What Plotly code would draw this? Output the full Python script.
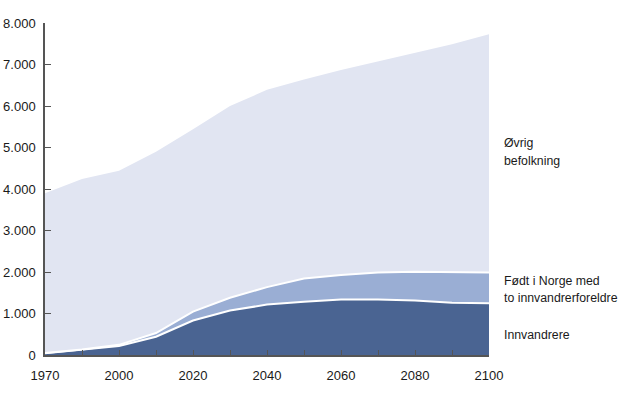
import plotly.graph_objects as go

years = [1970, 1990, 2000, 2010, 2020, 2030, 2040, 2050, 2060, 2070, 2080, 2090, 2100]
tick_labels = ["1970", "", "2000", "", "2020", "", "2040", "", "2060", "", "2080", "", "2100"]
innvandrere = [40, 120, 215, 440, 830, 1070, 1215, 1285, 1340, 1340, 1315, 1260, 1245]
norskfodte = [5, 15, 30, 90, 215, 310, 420, 560, 590, 650, 690, 740, 740]
ovrig = [3855, 4105, 4195, 4370, 4395, 4620, 4755, 4795, 4940, 5090, 5285, 5490, 5745]
y_ticks = [0, 1000, 2000, 3000, 4000, 5000, 6000, 7000, 8000]
y_tick_labels = ["0", "1.000", "2.000", "3.000", "4.000", "5.000", "6.000", "7.000", "8.000"]

idx = list(range(len(years)))

fig = go.Figure()
fig.add_trace(go.Scatter(x=idx, y=innvandrere, stackgroup="one", mode="lines",
                         line=dict(color="white", width=2), fillcolor="#4a6492",
                         name="Innvandrere", hoverinfo="skip"))
fig.add_trace(go.Scatter(x=idx, y=norskfodte, stackgroup="one", mode="lines",
                         line=dict(color="white", width=2), fillcolor="#9aaed4",
                         name="Født i Norge med to innvandrerforeldre", hoverinfo="skip"))
fig.add_trace(go.Scatter(x=idx, y=ovrig, stackgroup="one", mode="lines",
                         line=dict(color="rgba(0,0,0,0)", width=0), fillcolor="#e1e5f2",
                         name="Øvrig befolkning", hoverinfo="skip"))

font = dict(family="Liberation Sans, Arial, Helvetica, sans-serif", size=13, color="#1a1a1a")

fig.update_layout(
    width=620, height=402,
    margin=dict(l=45, r=131, t=23, b=47),
    paper_bgcolor="white", plot_bgcolor="white",
    showlegend=False,
    font=font,
    xaxis=dict(range=[0, 12], tickmode="array", tickvals=idx, ticktext=tick_labels,
               ticks="inside", ticklen=5, tickwidth=1, tickcolor="#555555",
               showline=True, linecolor="#555555", linewidth=1.5, automargin=False,
               showgrid=False, zeroline=False, ticklabelstandoff=8),
    yaxis=dict(range=[0, 8000], tickmode="array", tickvals=y_ticks, ticktext=y_tick_labels,
               ticks="inside", ticklen=6, tickwidth=1, tickcolor="#555555",
               showline=True, linecolor="#555555", linewidth=1.5, automargin=False,
               showgrid=False, zeroline=False, ticklabelstandoff=5),
)

ann_font = dict(family="Liberation Sans, Arial, Helvetica, sans-serif", size=12.3, color="#1a1a1a")
labels = [("Øvrig", 5100), ("befolkning", 4670), ("Født i Norge med", 1790),
          ("to innvandrerforeldre", 1370), ("Innvandrere", 480)]
for txt, yv in labels:
    fig.add_annotation(x=1, xref="paper", xshift=13, y=yv, yref="y", text=txt,
                       showarrow=False, xanchor="left", yanchor="middle", align="left",
                       font=ann_font)

fig.write_html("out.html", config={"displayModeBar": False},
               post_script="document.body.style.margin='0';")
